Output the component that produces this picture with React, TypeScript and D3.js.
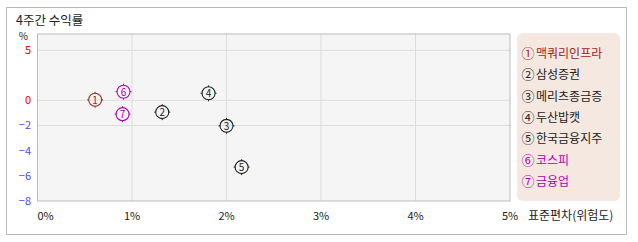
import React from "react";
import * as d3 from "d3";

const names = ["맥쿼리인프라", "삼성증권", "메리츠종금증", "두산밥캣", "한국금융지주", "코스피", "금융업"];
const circled = ["①", "②", "③", "④", "⑤", "⑥", "⑦"];
const riskValues = [0.61, 1.32, 2.0, 1.81, 2.16, 0.91, 0.9];
const returnValues = [0.05, -0.94, -2.03, 0.7, -5.31, 0.86, -1.1];
const colors = ["#a0241c", "#222", "#222", "#222", "#222", "#b000b0", "#b000b0"];
const xTicks = [0, 1, 2, 3, 4, 5];
const yTicks = [5, 0, -2, -4, -6, -8];
const yGrid = [5, 0, -2];

const W = 638, H = 242;
const plot = { left: 37.5, right: 510, top: 34, bottom: 201 };
const font = "'Noto Sans CJK KR', 'Noto Sans', sans-serif";

export default function App() {
  const x = d3.scaleLinear().domain([0, 5]).range([plot.left, plot.right]);
  const y = d3.scaleLinear().domain([-8, 0, 5]).range([plot.bottom, 100.3, 50.3]);
  return (
    <svg width={W} height={H} style={{ position: "absolute", left: 0, top: 0 }} fontFamily={font}>
      <rect x={0} y={0} width={W} height={H} fill="#fff" />
      <rect x={6.5} y={7.5} width={620} height={227} fill="#fff" stroke="#bbb" />
      <text x={16} y={25} fontSize={12.5} fill="#222">4주간 수익률</text>
      <rect x={plot.left} y={plot.top} width={plot.right - plot.left} height={plot.bottom - plot.top} fill="#f5f5f5" />
      {xTicks.slice(1, -1).map((t) => (
        <line key={"vx" + t} x1={x(t)} x2={x(t)} y1={plot.top} y2={plot.bottom} stroke="#dcdcdc" />
      ))}
      {yGrid.map((t) => (
        <line key={"hy" + t} x1={plot.left} x2={plot.right} y1={y(t)} y2={y(t)} stroke="#dcdcdc" />
      ))}
      <rect x={plot.left} y={plot.top} width={plot.right - plot.left} height={plot.bottom - plot.top} fill="none" stroke="#bbb" />
      <text x={28} y={40} fontSize={10} textAnchor="end" fill="#222">%</text>
      {yTicks.map((t) => (
        <text key={"yt" + t} x={31} y={y(t) + 4} fontSize={11} textAnchor="end" fill={t >= 0 ? "#f00" : "#4a4af0"}>
          {t < 0 ? "−" + Math.abs(t) : t}
        </text>
      ))}
      {xTicks.map((t) => (
        <text key={"xt" + t} x={x(t)} y={220} fontSize={11} textAnchor={t === 0 ? "start" : "middle"} fill="#222">
          {t + "%"}
        </text>
      ))}
      <text x={528} y={220} fontSize={12} fill="#222">표준편차(위험도)</text>
      {riskValues.map((v, i) => {
        const cx = x(v), cy = y(returnValues[i]);
        return (
          <g key={"p" + i} stroke={colors[i]}>
            <circle cx={cx} cy={cy} r={6.5} fill="none" strokeWidth={1.1} />
            <line x1={cx} x2={cx} y1={cy - 8} y2={cy - 6.5} />
            <line x1={cx} x2={cx} y1={cy + 6.5} y2={cy + 8} />
            <line x1={cx - 8} x2={cx - 6.5} y1={cy} y2={cy} />
            <line x1={cx + 6.5} x2={cx + 8} y1={cy} y2={cy} />
            <text x={cx} y={cy + 3.8} fontSize={10} textAnchor="middle" fill={colors[i]} stroke="none">{i + 1}</text>
          </g>
        );
      })}
      <rect x={517} y={33} width={103} height={168} rx={6} fill="#f5e8e1" />
      {names.map((n, i) => (
        <g key={"l" + i} fill={colors[i]}>
          <text x={528} y={58 + i * 21.3} fontSize={13} textAnchor="middle">{circled[i]}</text>
          <text x={536} y={58 + i * 21.3} fontSize={12}>{n}</text>
        </g>
      ))}
    </svg>
  );
}
